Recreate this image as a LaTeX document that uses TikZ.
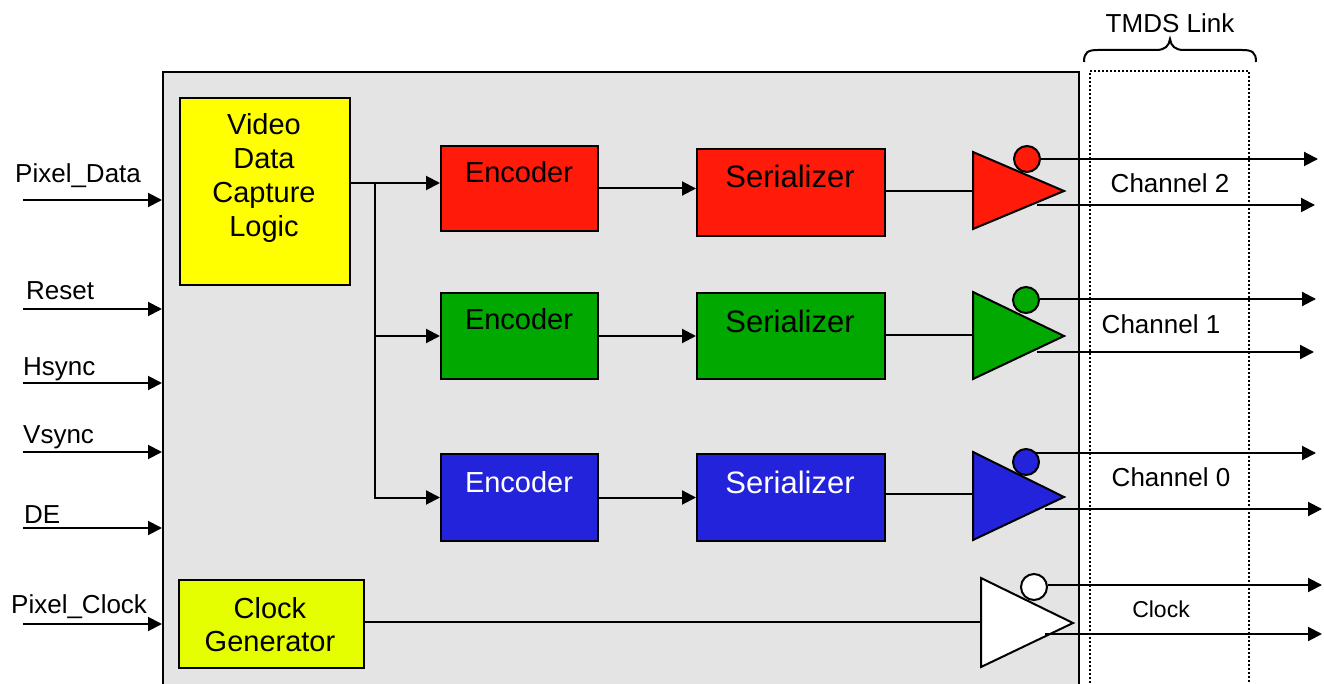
\documentclass[tikz,border=0pt]{standalone}
\usepackage{fontspec}
\setmainfont{Liberation Sans}
\usetikzlibrary{arrows.meta}
\definecolor{bggrey}{HTML}{E4E4E4}
\definecolor{chred}{HTML}{FF1A0A}
\definecolor{chgreen}{HTML}{00A800}
\definecolor{chblue}{HTML}{2323DC}
\definecolor{capyel}{HTML}{FFFF00}
\definecolor{clkyel}{HTML}{E5FF00}
\newcommand{\fs}[2]{\fontsize{#1}{#2}\selectfont}
\begin{document}
\begin{tikzpicture}[x=1pt,y=-1pt,
  blk/.style={draw=black,line width=2pt,inner sep=0pt,anchor=north west},
  sig/.style={line width=2pt,-{Triangle[length=14pt,width=14pt]}},
  wire/.style={line width=2pt},
  lbl/.style={inner sep=0pt,anchor=base west,font=\fs{26}{30}},
  chl/.style={inner sep=0pt,anchor=base,font=\fs{26}{30}},
  enct/.style={inner sep=0pt,anchor=base,font=\fs{29}{34}},
  sert/.style={inner sep=0pt,anchor=base,font=\fs{31}{36}},
  drv/.style={draw=black,line width=2pt,line join=miter},
  bub/.style={circle,draw=black,line width=2pt,inner sep=0pt,minimum size=26pt}
]
\clip (0,0) rectangle (1324,684);
\fill[white] (0,0) rectangle (1324,684);

% main chip box
\node[blk,fill=bggrey,minimum width=916pt,minimum height=640pt] (chip) at (162,71) {};

% TMDS link region
\node[draw=black,dash pattern=on 2pt off 2pt,line width=2pt,inner sep=0pt,anchor=north west,minimum width=159pt,minimum height=640pt] (tmds) at (1089,70) {};
\draw[line width=2pt] (1084,62) .. controls (1084,52) and (1088,50) .. (1098,50) -- (1156,50)
  .. controls (1165,50) and (1169,46) .. (1170,39) .. controls (1171,46) and (1175,50) .. (1184,50)
  -- (1242,50) .. controls (1252,50) and (1256,52) .. (1256,62);
\node[chl] (tmdslbl) at (1170,33) {TMDS Link};

% capture logic and clock generator
\node[blk,fill=capyel,minimum width=170pt,minimum height=187pt] (vdc) at (179,97) {};
\node[inner sep=0pt,align=center,font=\fs{29}{34}] (vdct) at (264,178) {Video\\Data\\Capture\\Logic};
\node[blk,fill=clkyel,minimum width=185pt,minimum height=88pt] (clkgen) at (178,579) {};
\node[inner sep=0pt,align=center,font=\fs{29}{33}] (clkgent) at (270,625) {Clock\\Generator};

% encoders and serializers
\node[blk,fill=chred,minimum width=157pt,minimum height=85pt] (enc2) at (440,145) {};
\node[blk,fill=chred,minimum width=188pt,minimum height=87pt] (ser2) at (696,148) {};
\node[blk,fill=chgreen,minimum width=157pt,minimum height=86pt] (enc1) at (440,292) {};
\node[blk,fill=chgreen,minimum width=188pt,minimum height=86pt] (ser1) at (696,292) {};
\node[blk,fill=chblue,minimum width=157pt,minimum height=87pt] (enc0) at (440,453) {};
\node[blk,fill=chblue,minimum width=188pt,minimum height=87pt] (ser0) at (696,453) {};
\node[enct] (enc2t) at (519,183) {Encoder};
\node[sert] (ser2t) at (790,188) {Serializer};
\node[enct] (enc1t) at (519,330) {Encoder};
\node[sert] (ser1t) at (790,332) {Serializer};
\node[enct,text=white] (enc0t) at (519,492) {Encoder};
\node[sert,text=white] (ser0t) at (790,493) {Serializer};

% drivers (triangles) with bubbles
\coordinate (d2in) at (973,191);
\draw[drv,fill=chred] (973,152) -- (1064,191) -- (973,229) -- cycle;
\coordinate (d1in) at (973,335);
\draw[drv,fill=chgreen] (973,292) -- (1064,336) -- (973,379) -- cycle;
\coordinate (d0in) at (973,494);
\draw[drv,fill=chblue] (973,452) -- (1064,497) -- (973,540) -- cycle;
\coordinate (dcin) at (981,622);
\draw[drv,fill=white] (981,578) -- (1073,623) -- (981,667) -- cycle;

\node[bub,fill=chred] (b2) at (1027,159) {};
\node[bub,fill=chgreen] (b1) at (1026,300) {};
\node[bub,fill=chblue] (b0) at (1026,462) {};
\node[bub,fill=white] (bc) at (1034,587) {};

% internal connections
\coordinate (split) at (375,183);
\draw[wire] (vdc.east |- split) -- (split);
\draw[sig] (split) -- (enc2.west |- split);
\draw[sig] (split) |- (enc1.west);
\draw[sig] (split) |- (enc0.west);
\draw[sig] (enc2.east) -- (ser2.west |- enc2.east);
\draw[sig] (enc1.east) -- (ser1.west |- enc1.east);
\draw[sig] (enc0.east) -- (ser0.west |- enc0.east);
\draw[wire] (ser2.east |- d2in) -- (d2in);
\draw[wire] (ser1.east |- d1in) -- (d1in);
\draw[wire] (ser0.east |- d0in) -- (d0in);
\draw[wire] (clkgen.east |- dcin) -- (dcin);

% outputs
\coordinate (o2a) at (1318,159); \coordinate (o2s) at (1037,205); \coordinate (o2b) at (1315,205);
\coordinate (o1a) at (1316,299); \coordinate (o1s) at (1037,352); \coordinate (o1b) at (1314,352);
\coordinate (o0a) at (1316,453); \coordinate (o0s) at (1045,509); \coordinate (o0b) at (1322,509);
\coordinate (oca) at (1322,585); \coordinate (ocs) at (1045,634); \coordinate (ocb) at (1322,634);
\draw[sig] (b2.east |- o2a) -- (o2a);
\draw[sig] (o2s) -- (o2b);
\draw[sig] (b1.east |- o1a) -- (o1a);
\draw[sig] (o1s) -- (o1b);
\draw[sig] (b0.north east |- o0a) -- (o0a);
\draw[sig] (o0s) -- (o0b);
\draw[sig] (bc.east |- oca) -- (oca);
\draw[sig] (ocs) -- (ocb);
\node[chl] (ch2) at (1170,193) {Channel 2};
\node[chl] (ch1) at (1161,334) {Channel 1};
\node[chl] (ch0) at (1171,486) {Channel 0};
\node[chl,font=\fs{23}{27}] (chc) at (1161,617) {Clock};

% inputs
\coordinate (iPD) at (23,200); \coordinate (iRS) at (23,309); \coordinate (iHS) at (23,383);
\coordinate (iVS) at (23,452); \coordinate (iDE) at (23,528); \coordinate (iPC) at (23,624);
\draw[sig] (iPD) -- (chip.west |- iPD);
\draw[sig] (iRS) -- (chip.west |- iRS);
\draw[sig] (iHS) -- (chip.west |- iHS);
\draw[sig] (iVS) -- (chip.west |- iVS);
\draw[sig] (iDE) -- (chip.west |- iDE);
\draw[sig] (iPC) -- (chip.west |- iPC);
\node[lbl] (lPD) at (15,183) {Pixel\_Data};
\node[lbl] (lRS) at (26,300) {Reset};
\node[lbl] (lHS) at (23,375) {Hsync};
\node[lbl] (lVS) at (23,443) {Vsync};
\node[lbl] (lDE) at (24,523) {DE};
\node[lbl] (lPC) at (11,613) {Pixel\_Clock};
\end{tikzpicture}
\end{document}
